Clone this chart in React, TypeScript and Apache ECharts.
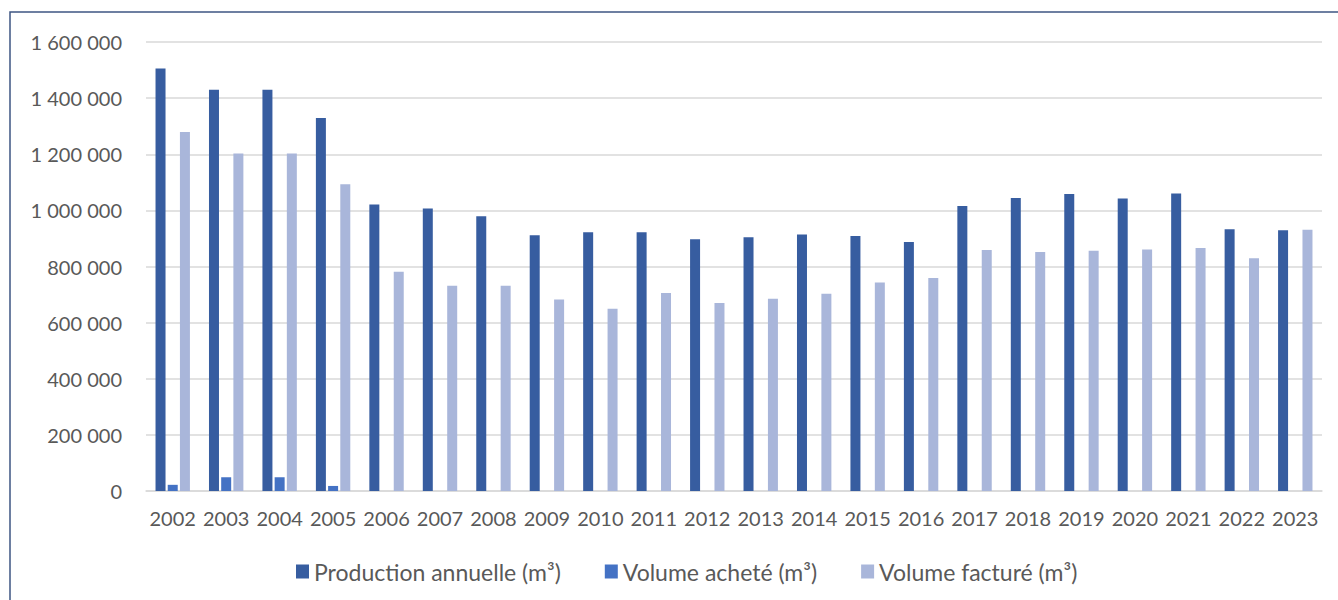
import React, { useEffect, useRef } from "react";
import * as echarts from "echarts";

const years = ["2002","2003","2004","2005","2006","2007","2008","2009","2010","2011","2012","2013","2014","2015","2016","2017","2018","2019","2020","2021","2022","2023"];
const production = [1506000,1430000,1430000,1329000,1021000,1007000,979000,911000,922000,922000,897000,904000,914000,909000,887000,1016000,1044000,1058000,1042000,1060000,933000,929000];
const achete = [22000,49000,49000,18000,0,0,0,0,0,0,0,0,0,0,0,0,0,0,0,0,0,0];
const facture = [1279000,1203000,1203000,1093000,781000,731000,731000,682000,649000,706000,670000,685000,703000,743000,759000,859000,852000,856000,861000,866000,829000,931000];
const seriesNames = ["Production annuelle (m³)", "Volume acheté (m³)", "Volume facturé (m³)"];
const colors = ["#375DA0", "#4472C4", "#A9B6DA"];

const fmt = (v: number) => String(v).replace(/\B(?=(\d{3})+(?!\d))/g, "\u00a0");

export default function App() {
  const ref = useRef<HTMLDivElement>(null);
  useEffect(() => {
    if (!ref.current) return;
    const chart = echarts.init(ref.current, undefined, { renderer: "svg" });
    const font = "Lato, 'Liberation Sans', sans-serif";
    const mk = (name: string, data: number[], color: string) => ({
      name,
      type: "bar",
      data,
      barWidth: 10,
      barGap: "22%",
      itemStyle: { color },
    });
    chart.setOption({
      animation: false,
      backgroundColor: "#ffffff",
      textStyle: { fontFamily: font },
      color: colors,
      grid: { left: 146, right: 16, top: 42, bottom: 109, containLabel: false },
      graphic: [
        {
          type: "rect",
          shape: { x: 10, y: 12, width: 1400, height: 700 },
          style: { fill: "none", stroke: "#3E5582", lineWidth: 1.5 },
          z: 100,
        },
      ],
      legend: {
        left: 291,
        top: 555,
        itemWidth: 13,
        itemHeight: 14,
        itemGap: 44,
        icon: "rect",
        textStyle: { fontSize: 23, color: "#595959", fontFamily: font },
        data: seriesNames,
      },
      xAxis: {
        type: "category",
        data: years,
        axisLine: { show: true, lineStyle: { color: "#D9D9D9", width: 1.5 } },
        axisTick: { show: false },
        axisLabel: { fontSize: 20, color: "#595959", margin: 17, interval: 0, fontFamily: font },
      },
      yAxis: {
        type: "value",
        min: 0,
        max: 1600000,
        interval: 200000,
        axisLine: { show: false },
        axisTick: { show: false },
        splitLine: { lineStyle: { color: "#D9D9D9", width: 1.5 } },
        axisLabel: { fontSize: 20, color: "#595959", margin: 24, fontFamily: font, formatter: (v: number) => fmt(v) },
      },
      series: [
        mk(seriesNames[0], production, colors[0]),
        mk(seriesNames[1], achete, colors[1]),
        mk(seriesNames[2], facture, colors[2]),
      ],
    });
    return () => chart.dispose();
  }, []);
  return <div ref={ref} style={{ position: "fixed", left: 0, top: 0, width: 1338, height: 600 }} />;
}
